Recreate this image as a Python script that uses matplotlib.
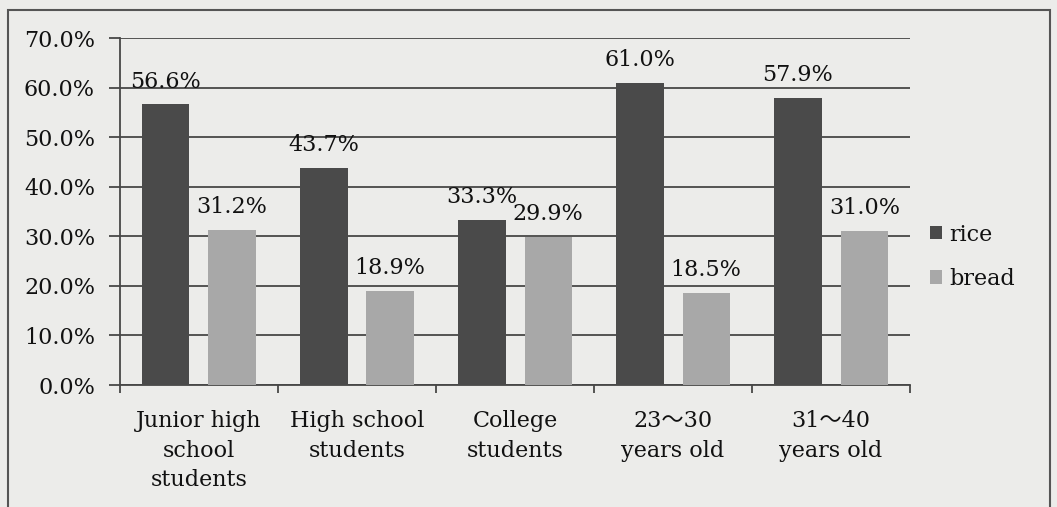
import numpy as np
import matplotlib.pyplot as plt
from matplotlib.patches import Rectangle

categories = ["Junior high\nschool\nstudents", "High school\nstudents", "College\nstudents",
              "23～30\nyears old", "31～40\nyears old"]
rice = [56.6, 43.7, 33.3, 61.0, 57.9]
bread = [31.2, 18.9, 29.9, 18.5, 31.0]
yticks = [0, 10, 20, 30, 40, 50, 60, 70]

plt.rcParams['font.family'] = ['DejaVu Serif', 'Noto Sans CJK JP']
plt.rcParams['font.size'] = 16

bg = '#ececea'
rice_color = '#4a4a4a'
bread_color = '#a8a8a8'
ink = '#111111'

fig = plt.figure(figsize=(10.57, 5.07), dpi=100, facecolor=bg)
ax = fig.add_axes([0.1135, 0.2406, 0.861 - 0.1135, 0.925 - 0.2406])
ax.set_facecolor(bg)

# outer frame around the whole chart
fig.patches.append(Rectangle((0.008, -0.01), 0.985, 0.99, transform=fig.transFigure,
                             fill=False, edgecolor='#555555', linewidth=1.5))

x = np.arange(len(categories))
w = 0.30
off = 0.21
b1 = ax.bar(x - off, rice, w, color=rice_color, label='rice', zorder=3)
b2 = ax.bar(x + off, bread, w, color=bread_color, label='bread', zorder=3)

for bars in (b1, b2):
    for rect in bars:
        h = rect.get_height()
        ax.text(rect.get_x() + rect.get_width() / 2, h + 2.4, f'{h:.1f}%',
                ha='center', va='bottom', fontsize=16, color=ink)

ax.set_xlim(-0.5, len(categories) - 0.5)
ax.set_ylim(0, 70)
ax.set_yticks(yticks)
ax.set_yticklabels([f'{v:.1f}%' for v in yticks], fontsize=16, color=ink)
ax.yaxis.grid(True, color='#474747', linewidth=1.3, zorder=0)
ax.tick_params(axis='y', length=8, width=1.3, color='#474747', pad=10)

ax.set_xticks(np.arange(len(categories) + 1) - 0.5, minor=True)
ax.set_xticks(x)
ax.set_xticklabels(categories, fontsize=16, color=ink, linespacing=1.45)
ax.tick_params(axis='x', which='major', length=0, pad=18)
ax.tick_params(axis='x', which='minor', length=6, width=1.3, color='#474747')

for s in ('top', 'right'):
    ax.spines[s].set_visible(False)
for s in ('left', 'bottom'):
    ax.spines[s].set_color('#474747')
    ax.spines[s].set_linewidth(1.3)

ax.legend(loc='center left', bbox_to_anchor=(1.0, 0.37), frameon=False,
          fontsize=16, handlelength=0.55, handleheight=0.55, handletextpad=0.3,
          labelspacing=1.0, labelcolor=ink)

fig.savefig('out.png', dpi=100, facecolor=bg)
